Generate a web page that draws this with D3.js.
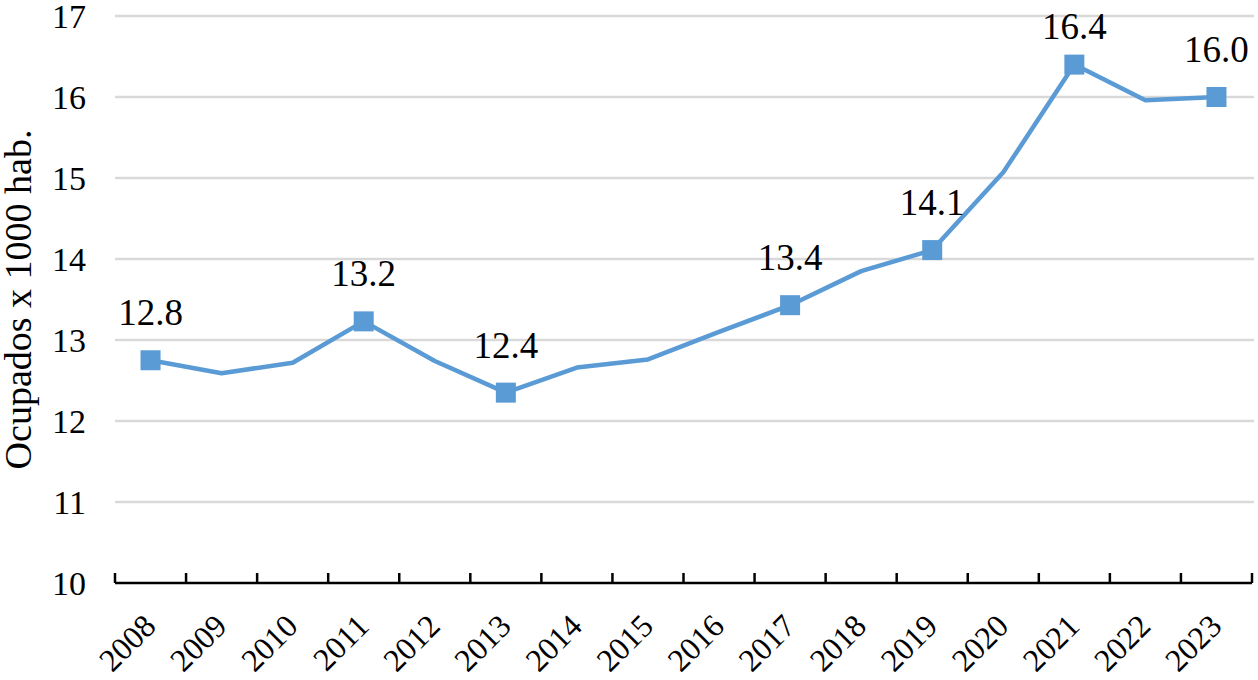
<!DOCTYPE html>
<html><head><meta charset="utf-8">
<script src="https://cdn.jsdelivr.net/npm/d3@7"></script>
<style>body{margin:0;background:#fff}svg{display:block}</style>
</head><body>
<svg id="c" width="1258" height="680"></svg>
<script>
const years = ["2008","2009","2010","2011","2012","2013","2014","2015","2016","2017","2018","2019","2020","2021","2022","2023"];
const values = [12.75,12.59,12.72,13.23,12.74,12.35,12.66,12.76,13.1,13.43,13.85,14.11,15.07,16.4,15.96,16.0];
const labelled = ["2008","2011","2013","2017","2019","2021","2023"];
const labelText = ["12.8","13.2","12.4","13.4","14.1","16.4","16.0"];
const yTicks = [10,11,12,13,14,15,16,17];

const FF = "Liberation Serif";
const svg = d3.select("#c");
const L = 115, R = 1252, T = 16, B = 583;
const x = d3.scaleBand().domain(years).range([L, R]);
const y = d3.scaleLinear().domain([10, 17]).range([B, T]);

// gridlines
svg.append("g").selectAll("line").data(yTicks.filter(d => d > 10)).join("line")
  .attr("x1", L).attr("x2", 1254).attr("y1", d => y(d)).attr("y2", d => y(d))
  .attr("stroke", "#d9d9d9").attr("stroke-width", 2.5);

// y tick labels
svg.append("g").selectAll("text").data(yTicks).join("text")
  .attr("x", 86).attr("y", d => y(d)).attr("dy", "0.35em")
  .attr("text-anchor", "end").style("font-family", FF).style("font-size", "34px")
  .text(d => d);

// x axis
const xAxis = svg.append("g").attr("transform", `translate(0,${B})`);
xAxis.append("line").attr("x1", L).attr("x2", R).attr("stroke", "#000").attr("stroke-width", 2.5);
const bounds = years.map(d => x(d)).concat([R]);
xAxis.selectAll("line.tick").data(bounds).join("line").attr("class", "tick")
  .attr("x1", d => d).attr("x2", d => d).attr("y1", 0).attr("y2", -10)
  .attr("stroke", "#000").attr("stroke-width", 2.5);
xAxis.selectAll("text").data(years).join("text")
  .attr("transform", d => `translate(${x(d) + x.bandwidth() / 2 + 7},${45}) rotate(-45)`)
  .attr("text-anchor", "end").style("font-family", FF).style("font-size", "32px")
  .text(d => d);

// axis title
svg.append("text")
  .attr("transform", `translate(31,${(T + B) / 2}) rotate(-90)`)
  .attr("text-anchor", "middle").style("font-family", FF).style("font-size", "38px")
  .text("Ocupados x 1000 hab.");

// line
const cx = d => x(d) + x.bandwidth() / 2;
const line = d3.line().x((d, i) => cx(years[i])).y(d => y(d));
svg.append("path").datum(values).attr("d", line)
  .attr("fill", "none").attr("stroke", "#5B9BD5").attr("stroke-width", 4.5)
  .attr("stroke-linejoin", "round");

// markers
const marked = labelled.map((yr, i) => ({yr, v: values[years.indexOf(yr)], t: labelText[i]}));
svg.append("g").selectAll("rect").data(marked).join("rect")
  .attr("x", d => cx(d.yr) - 10).attr("y", d => y(d.v) - 10)
  .attr("width", 20).attr("height", 20).attr("fill", "#5B9BD5");

svg.append("g").selectAll("text").data(marked).join("text")
  .attr("x", d => cx(d.yr)).attr("y", d => Math.max(y(d.v) - 35, 39))
  .attr("text-anchor", "middle").style("font-family", FF).style("font-size", "37px")
  .text(d => d.t);
</script>
</body></html>
